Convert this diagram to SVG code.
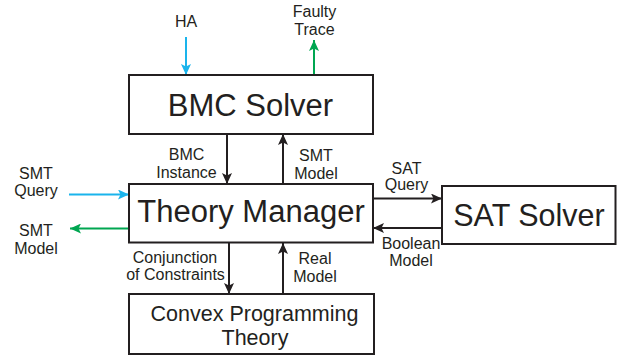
<svg xmlns="http://www.w3.org/2000/svg" width="621" height="358" viewBox="0 0 621 358">
<style>
.box{fill:#fff;stroke:#231f20;stroke-width:2}
.big{font-family:"Liberation Sans",Arial,sans-serif;fill:#231f20;text-anchor:middle}
.lbl{font-family:"Liberation Sans",Arial,sans-serif;font-size:16px;fill:#231f20;text-anchor:middle}
.k{stroke:#231f20;stroke-width:2;fill:none;marker-end:url(#ak)}
.b{stroke:#1ab4ec;stroke-width:2;fill:none;marker-end:url(#ab)}
.g{stroke:#00a651;stroke-width:2;fill:none;marker-end:url(#ag)}
</style>
<defs>
<marker id="ak" markerUnits="userSpaceOnUse" markerWidth="12" markerHeight="10" refX="11" refY="5" orient="auto"><path d="M0,0 L11,5 L0,10 L2.5,5 z" fill="#231f20"/></marker>
<marker id="ab" markerUnits="userSpaceOnUse" markerWidth="12" markerHeight="10" refX="11" refY="5" orient="auto"><path d="M0,0 L11,5 L0,10 L2.5,5 z" fill="#1ab4ec"/></marker>
<marker id="ag" markerUnits="userSpaceOnUse" markerWidth="12" markerHeight="10" refX="11" refY="5" orient="auto"><path d="M0,0 L11,5 L0,10 L2.5,5 z" fill="#00a651"/></marker>
</defs>
<rect width="621" height="358" fill="#fff"/>
<g id="connectors">
<line class="b" x1="186" y1="37" x2="186" y2="75"/>
<line class="g" x1="314" y1="75" x2="314" y2="40"/>
<line class="k" x1="227" y1="134" x2="227" y2="184"/>
<line class="k" x1="283" y1="184" x2="283" y2="134"/>
<line class="b" x1="69" y1="194.5" x2="129" y2="194.5"/>
<line class="g" x1="129" y1="228.5" x2="70" y2="228.5"/>
<line class="k" x1="373" y1="198.5" x2="442" y2="198.5"/>
<line class="k" x1="442" y1="228" x2="373" y2="228"/>
<line class="k" x1="229" y1="243" x2="229" y2="294"/>
<line class="k" x1="283" y1="294" x2="283" y2="243"/>
</g>
<g id="labels">
<text class="lbl" x="186" y="27">HA</text>
<text class="lbl" x="314.5" y="17">Faulty</text>
<text class="lbl" x="314.5" y="35">Trace</text>
<text class="lbl" x="186.5" y="160">BMC</text>
<text class="lbl" x="186.5" y="178">Instance</text>
<text class="lbl" x="316" y="161">SMT</text>
<text class="lbl" x="316" y="179">Model</text>
<text class="lbl" x="36" y="179">SMT</text>
<text class="lbl" x="36" y="196">Query</text>
<text class="lbl" x="36" y="236">SMT</text>
<text class="lbl" x="36" y="254">Model</text>
<text class="lbl" x="406.5" y="174">SAT</text>
<text class="lbl" x="406.5" y="190">Query</text>
<text class="lbl" x="411" y="248.5">Boolean</text>
<text class="lbl" x="411" y="265.5">Model</text>
<text class="lbl" x="175" y="263">Conjunction</text>
<text class="lbl" x="175.5" y="280">of Constraints</text>
<text class="lbl" x="315" y="264">Real</text>
<text class="lbl" x="315" y="282">Model</text>
</g>
<g id="bmc">
<rect class="box" x="129" y="75" width="244" height="59"/>
<text class="big" x="250.5" y="115.5" font-size="31">BMC Solver</text>
</g>
<g id="theory">
<rect class="box" x="129" y="184" width="244" height="58.5"/>
<text class="big" x="251" y="222" font-size="31">Theory Manager</text>
</g>
<g id="sat">
<rect class="box" x="442" y="186" width="173.5" height="58"/>
<text class="big" x="529" y="226" font-size="30.5">SAT Solver</text>
</g>
<g id="convex">
<rect class="box" x="129" y="294" width="245" height="60"/>
<text class="big" x="254.5" y="320.5" font-size="21.5">Convex Programming</text>
<text class="big" x="255" y="345" font-size="21.5">Theory</text>
</g>
</svg>
